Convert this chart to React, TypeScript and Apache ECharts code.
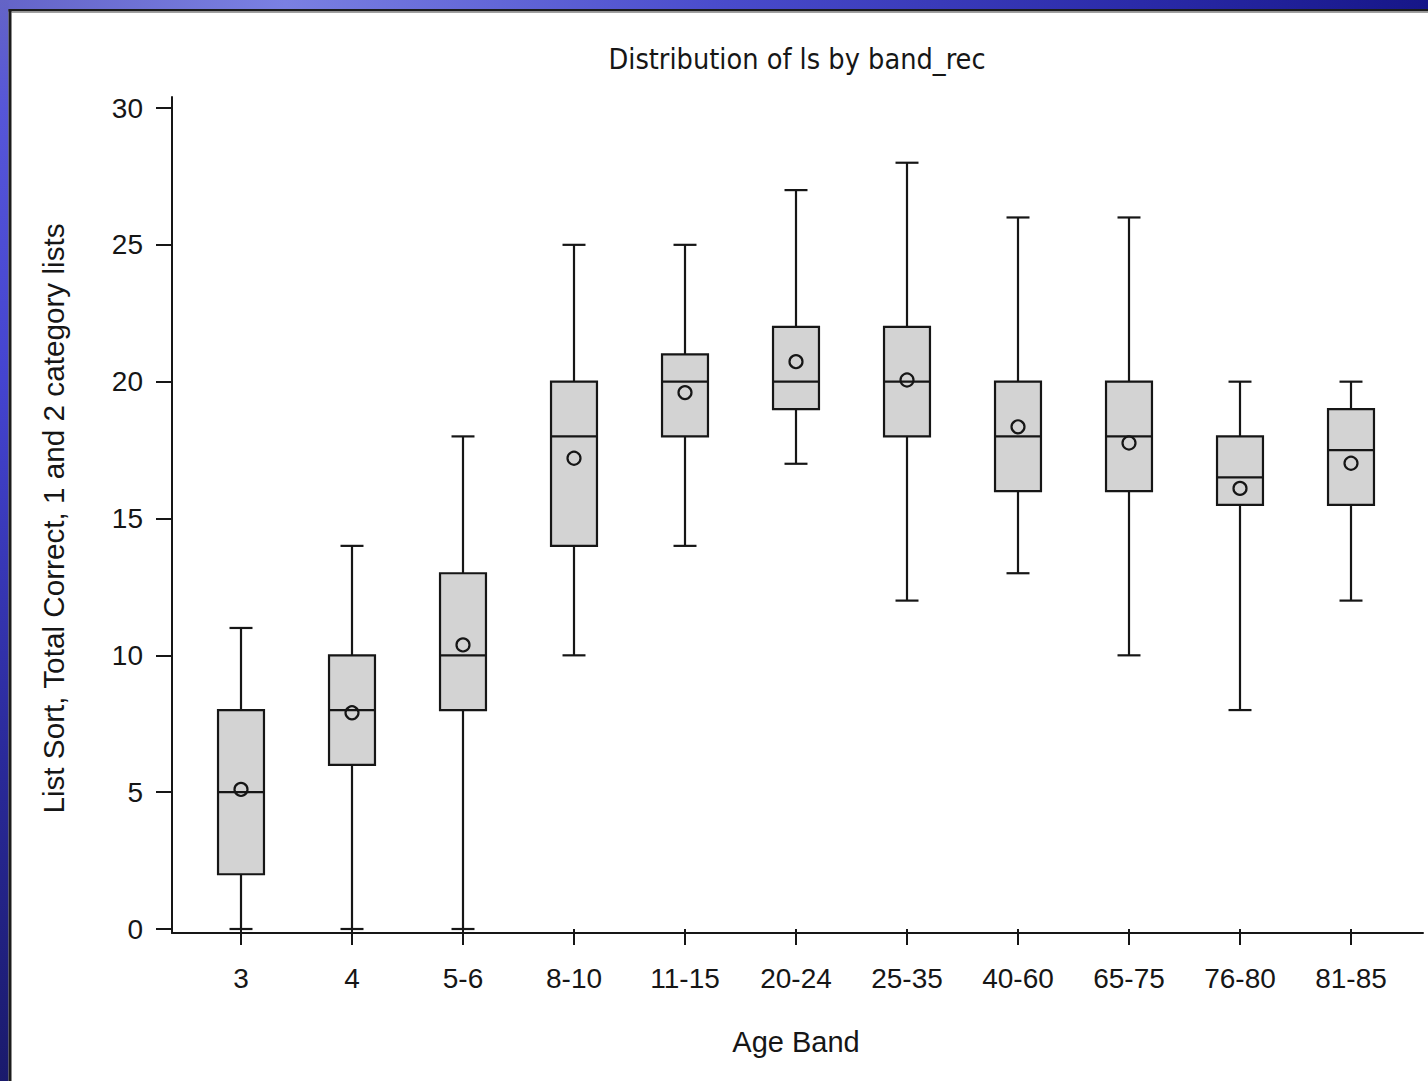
import React, { useEffect, useRef } from "react";
import * as echarts from "echarts";

const categories = ["3", "4", "5-6", "8-10", "11-15", "20-24", "25-35", "40-60", "65-75", "76-80", "81-85"];
const minValues = [0, 0, 0, 10, 14, 17, 12, 13, 10, 8, 12];
const q1Values = [2, 6, 8, 14, 18, 19, 18, 16, 16, 15.5, 15.5];
const medianValues = [5, 8, 10, 18, 20, 20, 20, 18, 18, 16.5, 17.5];
const q3Values = [8, 10, 13, 20, 21, 22, 22, 20, 20, 18, 19];
const maxValues = [11, 14, 18, 25, 25, 27, 28, 26, 26, 20, 20];
const meanValues = [5.1, 7.9, 10.38, 17.2, 19.6, 20.73, 20.06, 18.35, 17.76, 16.1, 17.02];

const yMin = 0;
const yMax = 30;
const yInterval = 5;

const titleText = "Distribution of ls by band_rec";
const xAxisName = "Age Band";
const yAxisName = "List Sort, Total Correct, 1 and 2 category lists";

const INK = "#161616";
const BOX_FILL = "#d3d3d3";
const SANS = "'Liberation Sans', Arial, sans-serif";

export default function App() {
  const ref = useRef<HTMLDivElement>(null);

  useEffect(() => {
    if (!ref.current) return;
    const chart = echarts.init(ref.current, undefined, { renderer: "svg" });

    const data = categories.map((_, i) => [
      i,
      minValues[i],
      q1Values[i],
      medianValues[i],
      q3Values[i],
      maxValues[i],
      meanValues[i],
    ]);

    const renderItem = (params: any, api: any) => {
      const idx = api.value(0);
      const pMin = api.coord([idx, api.value(1)]);
      const pQ1 = api.coord([idx, api.value(2)]);
      const pMed = api.coord([idx, api.value(3)]);
      const pQ3 = api.coord([idx, api.value(4)]);
      const pMax = api.coord([idx, api.value(5)]);
      const pMean = api.coord([idx, api.value(6)]);
      const band = api.size([1, 0])[0];
      const bw = band * 0.414;
      const cw = bw / 2;
      const x = Math.round(pMed[0]);
      const ls = { stroke: INK, lineWidth: 2.2, fill: "none" };
      return {
        type: "group",
        children: [
          { type: "line", shape: { x1: x, y1: pQ3[1], x2: x, y2: pMax[1] }, style: ls },
          { type: "line", shape: { x1: x, y1: pQ1[1], x2: x, y2: pMin[1] }, style: ls },
          { type: "line", shape: { x1: x - cw / 2, y1: pMax[1], x2: x + cw / 2, y2: pMax[1] }, style: ls },
          { type: "line", shape: { x1: x - cw / 2, y1: pMin[1], x2: x + cw / 2, y2: pMin[1] }, style: ls },
          {
            type: "rect",
            shape: { x: x - bw / 2, y: pQ3[1], width: bw, height: pQ1[1] - pQ3[1] },
            style: { fill: BOX_FILL, stroke: INK, lineWidth: 2.2 },
          },
          { type: "line", shape: { x1: x - bw / 2, y1: pMed[1], x2: x + bw / 2, y2: pMed[1] }, style: ls },
          {
            type: "circle",
            shape: { cx: x, cy: pMean[1], r: 6.5 },
            style: { fill: "transparent", stroke: INK, lineWidth: 2.2 },
          },
        ],
      };
    };

    const option: any = {
      animation: false,
      backgroundColor: "#ffffff",
      title: {
        text: titleText,
        left: 792,
        top: 39,
        textAlign: "center",
        textStyle: {
          fontFamily: "'DejaVu Sans Condensed', 'DejaVu Sans', sans-serif",
          fontSize: 28.6,
          fontWeight: "normal",
          color: INK,
        },
      },
      graphic: [
        {
          type: "rect",
          z: 100,
          shape: { x: 0, y: 0, width: 1428, height: 9 },
          style: {
            fill: new echarts.graphic.LinearGradient(0, 0, 1, 0, [
              { offset: 0, color: "#6464c8" },
              { offset: 0.2, color: "#7a80e2" },
              { offset: 0.5, color: "#4a4ccc" },
              { offset: 0.8, color: "#2a2aa8" },
              { offset: 1, color: "#161688" },
            ]),
          },
        },
        {
          type: "rect",
          z: 100,
          shape: { x: 0, y: 0, width: 8.5, height: 1081 },
          style: {
            fill: new echarts.graphic.LinearGradient(0, 0, 0, 1, [
              { offset: 0, color: "#6464c6" },
              { offset: 0.1, color: "#5656d8" },
              { offset: 0.35, color: "#4444d0" },
              { offset: 0.7, color: "#2a2a9a" },
              { offset: 1, color: "#1a1a6c" },
            ]),
          },
        },
        { type: "rect", z: 101, shape: { x: 8.5, y: 9, width: 1420, height: 2.5 }, style: { fill: "#1c1c1c" } },
        { type: "rect", z: 101, shape: { x: 11.5, y: 11.5, width: 1417, height: 1.5 }, style: { fill: "#a0a0a0" } },
        { type: "rect", z: 101, shape: { x: 8.5, y: 9, width: 3, height: 1072 }, style: { fill: "#1c1c1c" } },
      ],
      grid: [
        { left: 185.5, right: 21.5, top: 108, bottom: 152, containLabel: false },
        { left: 172, right: 5, top: 97, bottom: 148, containLabel: false },
      ],
      xAxis: [
        {
          type: "category",
          gridIndex: 0,
          data: categories,
          offset: 4,
          boundaryGap: true,
          axisLine: { show: false },
          axisTick: { show: true, alignWithLabel: true, length: 16, lineStyle: { color: INK, width: 2 } },
          axisLabel: { margin: 31, fontFamily: SANS, fontSize: 28, color: INK, interval: 0 },
          splitLine: { show: false },
          name: xAxisName,
          nameLocation: "middle",
          nameGap: 94,
          nameTextStyle: { fontFamily: SANS, fontSize: 29, color: INK },
        },
        {
          type: "value",
          gridIndex: 1,
          min: 0,
          max: 1,
          axisLine: { show: true, onZero: false, lineStyle: { color: INK, width: 2 } },
          axisTick: { show: false },
          axisLabel: { show: false },
          splitLine: { show: false },
        },
      ],
      yAxis: [
        {
          type: "value",
          gridIndex: 0,
          min: yMin,
          max: yMax,
          interval: yInterval,
          offset: 13.5,
          axisLine: { show: false },
          axisTick: { show: true, length: 16, lineStyle: { color: INK, width: 2 } },
          axisLabel: { margin: 29, fontFamily: SANS, fontSize: 28, color: INK },
          splitLine: { show: false },
          name: yAxisName,
          nameLocation: "middle",
          nameRotate: 90,
          nameGap: 104,
          nameTextStyle: { fontFamily: SANS, fontSize: 29.7, color: INK },
        },
        {
          type: "value",
          gridIndex: 1,
          min: 0,
          max: 1,
          axisLine: { show: true, onZero: false, lineStyle: { color: INK, width: 2 } },
          axisTick: { show: false },
          axisLabel: { show: false },
          splitLine: { show: false },
        },
      ],
      series: [
        {
          type: "custom",
          name: "ls",
          xAxisIndex: 0,
          yAxisIndex: 0,
          renderItem,
          encode: { x: 0, y: [1, 2, 3, 4, 5, 6] },
          data,
          clip: false,
        },
      ],
    };

    chart.setOption(option);
    return () => chart.dispose();
  }, []);

  return (
    <div
      ref={ref}
      style={{ position: "absolute", left: 0, top: 0, width: 1428, height: 1081, background: "#fff" }}
    />
  );
}
